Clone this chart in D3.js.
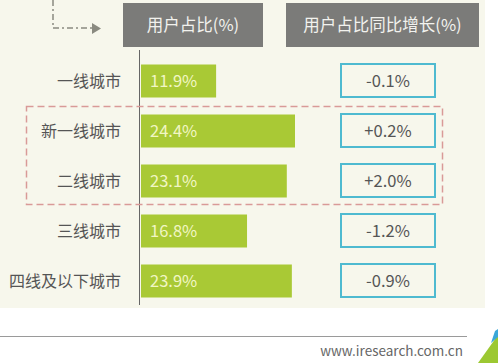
<!DOCTYPE html>
<html>
<head>
<meta charset="utf-8">
<style>
  body { margin: 0; background: #fff; }
  svg text { font-family: "Noto Sans CJK SC", "Noto Sans", sans-serif; }
</style>
<script src="https://cdn.jsdelivr.net/npm/d3@7"></script>
</head>
<body>
<script>
// data
var cities = ["一线城市", "新一线城市", "二线城市", "三线城市", "四线及以下城市"];
var share = [11.9, 24.4, 23.1, 16.8, 23.9];      // 用户占比(%)
var growth = [-0.1, 0.2, 2.0, -1.2, -0.9];       // 用户占比同比增长(%)
var headers = ["用户占比(%)", "用户占比同比增长(%)"];

var width = 498, height = 363;

var svg = d3.select("body").append("svg")
  .attr("width", width)
  .attr("height", height);

// cream panel
svg.append("rect")
  .attr("x", 0).attr("y", 0)
  .attr("width", 485).attr("height", 308)
  .attr("fill", "#f7f7ec");

var y = d3.scaleBand()
  .domain(cities)
  .range([56, 306])
  .paddingInner(0.34)
  .paddingOuter(0.17);

var x = d3.scaleLinear()
  .domain([0, 24.4])
  .range([141, 295]);

// dashed arrow at top left
svg.append("path")
  .attr("d", "M53,0 V28 H92")
  .attr("fill", "none")
  .attr("stroke", "#8a8a80")
  .attr("stroke-width", 1.5)
  .attr("stroke-dasharray", "6,3,2,3");
svg.append("path")
  .attr("d", "M92,23 L101,28.5 L92,34 Z")
  .attr("fill", "#8a8a80");

// headers
var head = [{x: 123, w: 140}, {x: 286, w: 193}];
svg.selectAll(".hd").data(headers).enter().append("rect")
  .attr("x", function(d, i) { return head[i].x; })
  .attr("y", 3)
  .attr("width", function(d, i) { return head[i].w; })
  .attr("height", 44)
  .attr("fill", "#7b7b79");
svg.selectAll(".hdt").data(headers).enter().append("text")
  .attr("x", function(d, i) { return head[i].x + head[i].w / 2; })
  .attr("y", 25)
  .attr("dy", "0.35em")
  .attr("text-anchor", "middle")
  .attr("font-size", 16.5)
  .attr("fill", "#f2f2ee")
  .text(function(d) { return d; });

// bars
svg.selectAll(".bar").data(share).enter().append("rect")
  .attr("x", x(0))
  .attr("y", function(d, i) { return y(cities[i]); })
  .attr("width", function(d) { return x(d) - x(0); })
  .attr("height", y.bandwidth())
  .attr("fill", "#a9c935");

svg.selectAll(".bv").data(share).enter().append("text")
  .attr("x", x(0) + 9)
  .attr("y", function(d, i) { return y(cities[i]) + y.bandwidth() / 2; })
  .attr("dy", "0.35em")
  .attr("font-size", 16.5)
  .attr("fill", "#f1f6c4")
  .text(function(d) { return d.toFixed(1) + "%"; });

// category labels
svg.selectAll(".cat").data(cities).enter().append("text")
  .attr("x", 121)
  .attr("y", function(d) { return y(d) + y.bandwidth() / 2; })
  .attr("dy", "0.35em")
  .attr("text-anchor", "end")
  .attr("font-size", 16)
  .attr("fill", "#555")
  .text(function(d) { return d; });

// axis line
svg.append("line")
  .attr("x1", 139.5).attr("x2", 139.5)
  .attr("y1", 50).attr("y2", 305)
  .attr("stroke", "#666")
  .attr("stroke-width", 1);

// growth boxes
function fmt(d) { return (d > 0 ? "+" : "-") + Math.abs(d).toFixed(1) + "%"; }
svg.selectAll(".gb").data(growth).enter().append("rect")
  .attr("x", 341)
  .attr("y", function(d, i) { return y(cities[i]) - 0.5; })
  .attr("width", 94)
  .attr("height", y.bandwidth())
  .attr("fill", "none")
  .attr("stroke", "#4fbad0")
  .attr("stroke-width", 2);
svg.selectAll(".gt").data(growth).enter().append("text")
  .attr("x", 388)
  .attr("y", function(d, i) { return y(cities[i]) + y.bandwidth() / 2; })
  .attr("dy", "0.35em")
  .attr("text-anchor", "middle")
  .attr("font-size", 16.5)
  .attr("fill", "#555")
  .text(fmt);

// highlight dashed box around 新一线 / 二线
svg.append("rect")
  .attr("x", 26.5)
  .attr("y", 106.5)
  .attr("width", 416)
  .attr("height", 98)
  .attr("fill", "none")
  .attr("stroke", "#d99a98")
  .attr("stroke-width", 1.5)
  .attr("stroke-dasharray", "7,4");

// footer
svg.append("line")
  .attr("x1", 0).attr("x2", 467)
  .attr("y1", 336.5).attr("y2", 336.5)
  .attr("stroke", "#9a9a9a")
  .attr("stroke-width", 1.2);
svg.append("text")
  .attr("x", 463)
  .attr("y", 356)
  .attr("text-anchor", "end")
  .attr("font-size", 13.5)
  .attr("fill", "#666")
  .text("www.iresearch.com.cn");

// logo corner
svg.append("path")
  .attr("d", "M498,335 L498,363 L478,363 Z")
  .attr("fill", "#9cc832");
svg.append("path")
  .attr("d", "M495,331 L498,329 L498,337 L491,343 Z")
  .attr("fill", "#3aa7d8");
</script>
</body>
</html>
